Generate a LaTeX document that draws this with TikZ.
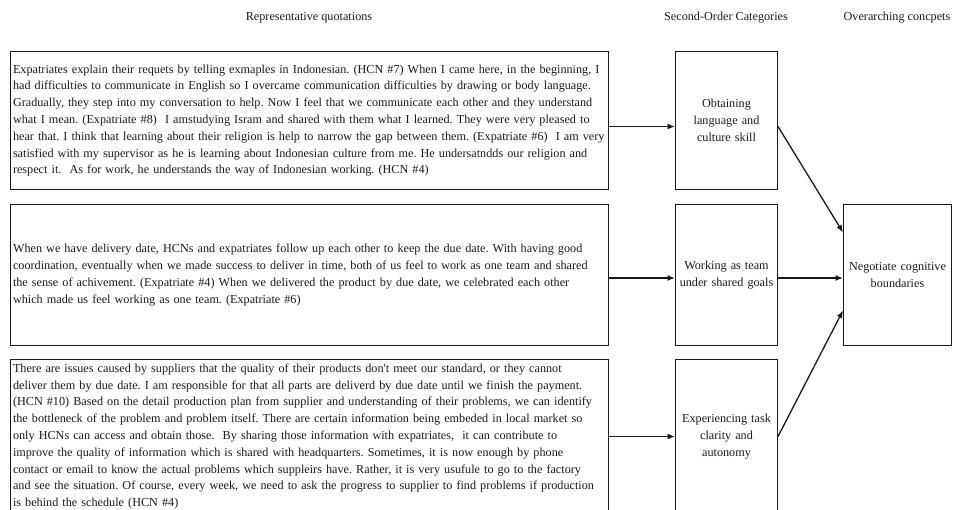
\documentclass[tikz,border=0pt]{standalone}
\usepackage{fontspec}
\setmainfont{Liberation Serif}
\usetikzlibrary{positioning,arrows.meta,calc}
\definecolor{figLine}{HTML}{1A1A1A}
\definecolor{figText}{HTML}{1A1A1A}
\frenchspacing
\tikzset{
  quote/.style={
    draw=figLine, line width=1pt, anchor=north west, minimum width=598pt,
    minimum height=#1, inner xsep=2.5pt, text width=593pt, align=left,
    text=figText, font=\fontsize{12.2}{16.8}\selectfont},
  quote/.default=138pt,
  categ/.style={
    draw=figLine, line width=1pt, anchor=north west, minimum width=102pt,
    minimum height=#1, inner xsep=2pt, text width=98pt, align=center,
    text=figText, font=\fontsize{12.2}{16.8}\selectfont},
  categ/.default=141pt,
  colhead/.style={text=figText, font=\fontsize{12.2}{14}\selectfont},
  link/.style={draw=figLine, line width=1.3pt, -{Latex[length=7.5pt,width=6pt]}},
}

\begin{document}
\begin{tikzpicture}[x=1pt,y=-1pt]
\useasboundingbox (0,0) rectangle (953,510);
\clip (0,0) rectangle (953,510);

% ---- column titles
\node[colhead] (H1) at (309,18) {Representative quotations};
\node[colhead] (H2) at (726,18) {Second-Order Categories};
\node[colhead] (H3) at (897,18) {Overarching concpets};

% ---- representative quotations
\node[quote] (Q1) at (10,51)
  {Expatriates explain their requets by telling exmaples in Indonesian. (HCN \#7) When I came here, in the beginning, I\\
   had difficulties to communicate in English so I overcame communication difficulties by drawing or body language.\\
   Gradually, they step into my conversation to help. Now I feel that we communicate each other and they understand\\
   what I mean. (Expatriate \#8)\ \ I amstudying Isram and shared with them what I learned. They were very pleased to\\
   hear that. I think that learning about their religion is help to narrow the gap between them. (Expatriate \#6)\ \ I am very\\
   satisfied with my supervisor as he is learning about Indonesian culture from me. He undersatndds our religion and\\
   respect it.\ \ As for work, he understands the way of Indonesian working. (HCN \#4)};
\node[quote=141pt] (Q2) at (10,204)
  {When we have delivery date, HCNs and expatriates follow up each other to keep the due date. With having good\\
   coordination, eventually when we made success to deliver in time, both of us feel to work as one team and shared\\
   the sense of achivement. (Expatriate \#4) When we delivered the product by due date, we celebrated each other\\
   which made us feel working as one team. (Expatriate \#6)};
\node[quote=154pt] (Q3) at (10,359)
  {There are issues caused by suppliers that the quality of their products don\textquotesingle t meet our standard, or they cannot\\
   deliver them by due date. I am responsible for that all parts are deliverd by due date until we finish the payment.\\
   (HCN \#10) Based on the detail production plan from supplier and understanding of their problems, we can identify\\
   the bottleneck of the problem and problem itself. There are certain information being embeded in local market so\\
   only HCNs can access and obtain those.\ \ By sharing those information with expatriates,\ \ it can contribute to\\
   improve the quality of information which is shared with headquarters. Sometimes, it is now enough by phone\\
   contact or email to know the actual problems which suppleirs have. Rather, it is very usufule to go to the factory\\
   and see the situation. Of course, every week, we need to ask the progress to supplier to find problems if production\\
   is behind the schedule (HCN \#4)};

% ---- second-order categories
\node[categ=138pt] (C1) at (675,51) {Obtaining\\ language and\\ culture skill};
\node[categ] (C2) at (675,204) {Working as team\\ under shared goals};
\node[categ=154pt] (C3) at (675,359) {Experiencing task\\ clarity and\\ autonomy};

% ---- overarching concept
\node[categ, minimum width=108pt, text width=104pt] (NCB) at (843,204)
  {Negotiate cognitive\\ boundaries};

% ---- links
\draw[link] ([yshift=-6pt]Q1.east) -- ([yshift=-6pt]C1.west);
\draw[link] ([yshift=-3pt]Q2.east) -- ([yshift=-3pt]C2.west);
\draw[link] (Q3.east) -- (C3.west);

\draw[link] ([yshift=-6pt]C1.east) -- ($(NCB.north west)!0.2!(NCB.south west)$);
\draw[link] ([yshift=-3pt]C2.east) -- ([yshift=-3pt]NCB.west);
\draw[link] (C3.east) -- ($(NCB.north west)!0.75!(NCB.south west)$);

\end{tikzpicture}
\end{document}
